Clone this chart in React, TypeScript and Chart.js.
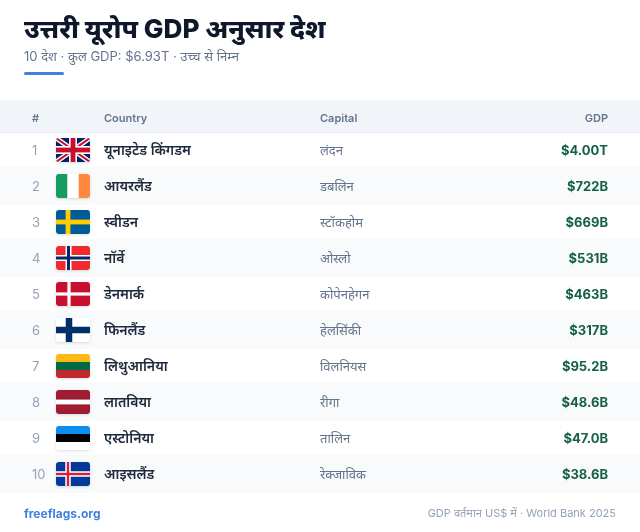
import React, { useEffect, useRef } from "react";
import { Chart, registerables } from "chart.js";

Chart.register(...registerables);

const ranks = ["1", "2", "3", "4", "5", "6", "7", "8", "9", "10"];
const flagCodes = ["gb", "ie", "se", "no", "dk", "fi", "lt", "lv", "ee", "is"];
const countries = ["यूनाइटेड किंगडम", "आयरलैंड", "स्वीडन", "नॉर्वे", "डेनमार्क", "फिनलैंड", "लिथुआनिया", "लातविया", "एस्टोनिया", "आइसलैंड"];
const capitals = ["लंदन", "डबलिन", "स्टॉकहोम", "ओस्लो", "कोपेनहेगन", "हेलसिंकी", "विलनियस", "रीगा", "तालिन", "रेक्जाविक"];
const gdpBillions = [4000, 722, 669, 531, 463, 317, 95.2, 48.6, 47.0, 38.6];
const gdpLabels = ["$4.00T", "$722B", "$669B", "$531B", "$463B", "$317B", "$95.2B", "$48.6B", "$47.0B", "$38.6B"];
const headers = ["#", "Country", "Capital", "GDP"];
const title = "उत्तरी यूरोप GDP अनुसार देश";
const subtitle = "10 देश · कुल GDP: $6.93T · उच्च से निम्न";
const footLeft = "freeflags.org";
const footRight = "GDP वर्तमान US$ में · World Bank 2025";

const FONT = 'Inter, "Noto Sans", "Noto Sans CJK SC", sans-serif';
const FW = 34, FH = 24;

type C = CanvasRenderingContext2D;

function cross(c: C, cx: number, w: number, col: string) {
  c.fillStyle = col;
  c.fillRect(cx - w / 2, 0, w, FH);
  c.fillRect(0, FH / 2 - w / 2, FW, w);
}
function hstripes(c: C, cols: string[]) {
  const h = FH / cols.length;
  cols.forEach((col, i) => { c.fillStyle = col; c.fillRect(0, i * h, FW, h + 0.5); });
}
function vstripes(c: C, cols: string[]) {
  const w = FW / cols.length;
  cols.forEach((col, i) => { c.fillStyle = col; c.fillRect(i * w, 0, w + 0.5, FH); });
}
function paintFlag(c: C, code: string) {
  switch (code) {
    case "gb": {
      c.fillStyle = "#012169"; c.fillRect(0, 0, FW, FH);
      c.lineCap = "butt";
      c.strokeStyle = "#fff"; c.lineWidth = 4.8;
      c.beginPath(); c.moveTo(0, 0); c.lineTo(FW, FH); c.moveTo(FW, 0); c.lineTo(0, FH); c.stroke();
      c.strokeStyle = "#C8102E"; c.lineWidth = 2;
      c.beginPath(); c.moveTo(0, 0); c.lineTo(FW, FH); c.moveTo(FW, 0); c.lineTo(0, FH); c.stroke();
      cross(c, FW / 2, 8, "#fff");
      cross(c, FW / 2, 4.8, "#C8102E");
      break;
    }
    case "ie": vstripes(c, ["#169B62", "#FFFFFF", "#FF883E"]); break;
    case "se": c.fillStyle = "#005B99"; c.fillRect(0, 0, FW, FH); cross(c, 12, 4.8, "#FFCD00"); break;
    case "no": c.fillStyle = "#EF2B2D"; c.fillRect(0, 0, FW, FH); cross(c, 12.5, 6, "#FFFFFF"); cross(c, 12.5, 3, "#002868"); break;
    case "dk": c.fillStyle = "#C8102E"; c.fillRect(0, 0, FW, FH); cross(c, 13, 3.2, "#FFFFFF"); break;
    case "fi": c.fillStyle = "#FFFFFF"; c.fillRect(0, 0, FW, FH); cross(c, 13, 6.5, "#002F6C"); break;
    case "lt": hstripes(c, ["#FDB913", "#006A44", "#C1272D"]); break;
    case "lv":
      c.fillStyle = "#9E1B32"; c.fillRect(0, 0, FW, FH);
      c.fillStyle = "#FFFFFF"; c.fillRect(0, 9.6, FW, 4.8);
      break;
    case "ee": hstripes(c, ["#0A8FF0", "#000000", "#FFFFFF"]); break;
    case "is": c.fillStyle = "#02399B"; c.fillRect(0, 0, FW, FH); cross(c, 12, 5.5, "#FFFFFF"); cross(c, 12, 2.4, "#DC1E35"); break;
  }
}

function text(c: C, s: string, x: number, y: number, font: string, col: string, align: CanvasTextAlign = "left") {
  c.font = `${font} ${FONT}`;
  c.fillStyle = col;
  c.textAlign = align;
  c.textBaseline = "middle";
  c.fillText(s, x, y);
}

const tablePlugin = {
  id: "tablePlugin",
  beforeDatasetsDraw(chart: any) {
    const c: C = chart.ctx;
    const y = chart.scales.y;
    c.save();
    c.fillStyle = "#ffffff";
    c.fillRect(0, 0, chart.width, chart.height);

    text(c, title, 24, 30, "800 26.2px", "#0f172a");
    text(c, subtitle, 24, 57, "400 13px", "#64748b");
    c.fillStyle = "#3f80e0";
    c.beginPath(); c.roundRect(24, 72, 40, 3, 1.5); c.fill();

    c.fillStyle = "#f1f5f9";
    c.fillRect(0, 100, chart.width, 32);
    c.fillStyle = "#e9eef4";
    c.fillRect(0, 132, chart.width, 1);
    text(c, headers[0], 32, 119, "600 11px", "#64748b");
    text(c, headers[1], 104, 119, "600 11px", "#64748b");
    text(c, headers[2], 320, 119, "600 11px", "#64748b");
    text(c, headers[3], 608, 119, "600 11px", "#64748b", "right");

    countries.forEach((name, i) => {
      const cy = y.getPixelForValue(i);
      if (i % 2 === 1) {
        c.fillStyle = "#f8fafc";
        c.fillRect(0, cy - 19, chart.width, 38);
      }
      text(c, ranks[i], 32, cy + 1, "400 13px", "#94a3b8");
      const fx = 56, fy = Math.round(cy - FH / 2);
      c.save();
      c.shadowColor = "rgba(0,0,0,0.14)";
      c.shadowBlur = 3;
      c.shadowOffsetY = 1;
      c.fillStyle = "#fff";
      c.beginPath(); c.roundRect(fx, fy, FW, FH, 3); c.fill();
      c.restore();
      c.save();
      c.beginPath(); c.roundRect(fx, fy, FW, FH, 3); c.clip();
      c.translate(fx, fy);
      paintFlag(c, flagCodes[i]);
      c.restore();
      text(c, name, 104, cy + 1, "600 14px", "#1e293b");
      text(c, capitals[i], 320, cy + 1, "400 13px", "#64748b");
      text(c, gdpLabels[i], 608, cy + 1, "700 13px", "#166044", "right");
    });

    text(c, footLeft, 24, 514, "700 12px", "#3f80e0");
    text(c, footRight, 616, 514, "400 11px", "#94a3b8", "right");
    c.restore();
  },
};

export default function App() {
  const ref = useRef<HTMLCanvasElement>(null);
  useEffect(() => {
    document.body.style.margin = "0";
    document.body.style.background = "#fff";
    const chart = new Chart(ref.current!, {
      type: "bar",
      data: {
        labels: countries,
        datasets: [{ label: "GDP", data: gdpBillions, backgroundColor: "rgba(0,0,0,0)", borderWidth: 0 }],
      },
      options: {
        indexAxis: "y",
        responsive: false,
        animation: false,
        devicePixelRatio: 1,
        layout: { padding: { top: 132, bottom: 40, left: 0, right: 0 } },
        plugins: { legend: { display: false }, tooltip: { enabled: false } },
        scales: {
          x: { type: "logarithmic", display: false },
          y: { type: "category", display: false, offset: true },
        },
      } as any,
      plugins: [tablePlugin],
    });
    return () => chart.destroy();
  }, []);
  return <canvas ref={ref} width={640} height={532} style={{ display: "block" }} />;
}
